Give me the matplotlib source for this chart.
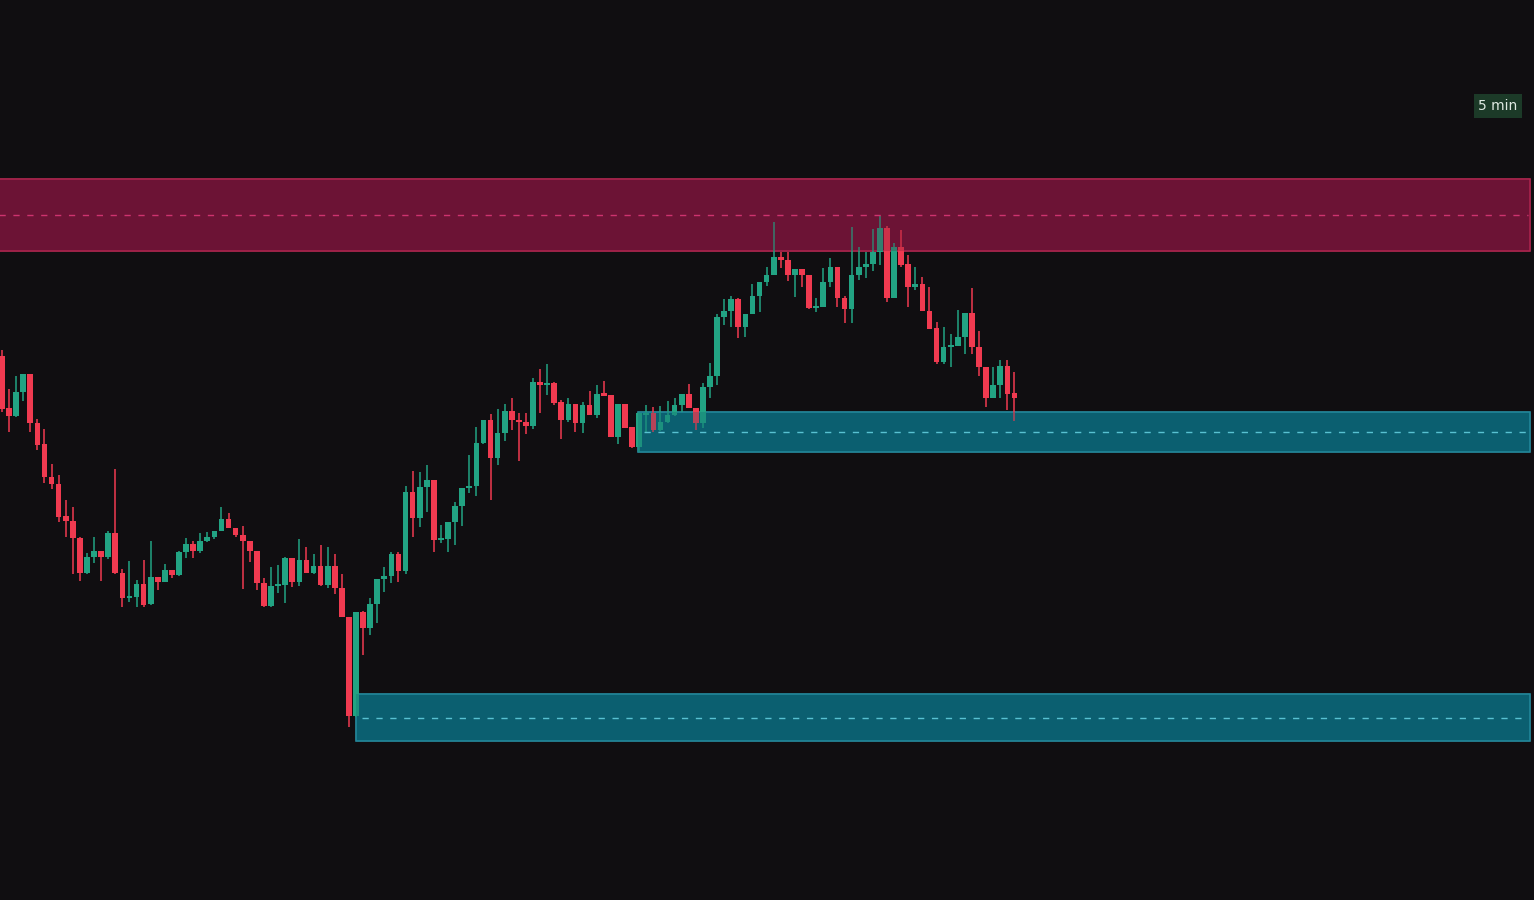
### 5 minute candles with one supply zone and two demand zones, dark theme.

import matplotlib.pyplot as plt
from matplotlib.patches import Rectangle
import numpy as np

# Candle data
opens = [544, 492, 484, 508, 526, 477, 456, 423, 416, 384, 379, 362, 327, 343, 349, 343,
         367, 327, 302, 303, 316, 296, 323, 318, 330, 325, 348, 356, 349, 359, 363, 369,
         381, 372, 365, 359, 349, 317, 294, 314, 315, 342, 318, 340, 327, 334, 315, 334,
         312, 283, 184, 288, 272, 296, 321, 324, 346, 329, 408, 382, 413, 420, 360, 361,
         378, 394, 412, 414, 457, 480, 442, 467, 489, 480, 478, 474, 518, 515, 517, 498,
         480, 496, 477, 495, 485, 507, 505, 463, 496, 473, 453, 485, 487, 470, 478, 485,
         495, 506, 492, 477, 513, 524, 583, 589, 601, 573, 586, 604, 618, 625, 643, 640,
         625, 631, 625, 592, 593, 618, 633, 602, 591, 625, 633, 636, 648, 672, 602, 653,
         636, 613, 616, 589, 572, 538, 553, 554, 563, 587, 553, 533, 502, 515, 534, 507]
highs = [550, 511, 524, 526, 526, 481, 471, 436, 425, 400, 393, 363, 347, 363, 349, 369,
         431, 331, 339, 320, 340, 359, 323, 336, 330, 349, 362, 359, 367, 368, 369, 393,
         387, 372, 374, 359, 349, 322, 333, 335, 343, 342, 361, 353, 346, 355, 353, 346,
         326, 283, 288, 289, 302, 321, 333, 348, 348, 414, 429, 428, 435, 420, 375, 378,
         398, 412, 445, 473, 480, 486, 491, 496, 502, 487, 487, 522, 531, 536, 518, 500,
         502, 496, 498, 509, 515, 519, 505, 496, 496, 473, 488, 495, 493, 494, 499, 502,
         506, 516, 492, 517, 537, 586, 601, 604, 602, 586, 616, 618, 633, 678, 648, 648,
         631, 631, 625, 602, 632, 642, 633, 604, 673, 653, 648, 671, 684, 674, 657, 670,
         645, 633, 623, 613, 578, 573, 566, 590, 587, 612, 569, 533, 533, 540, 540, 528]
lows = [488, 468, 483, 499, 468, 450, 417, 411, 378, 363, 326, 319, 326, 337, 319, 341,
        326, 293, 298, 293, 293, 295, 310, 318, 322, 324, 342, 342, 347, 358, 361, 369,
        372, 363, 311, 338, 310, 293, 293, 307, 297, 313, 314, 327, 326, 314, 312, 306,
        283, 173, 183, 245, 265, 277, 308, 317, 318, 326, 363, 373, 388, 348, 357, 348,
        355, 374, 407, 404, 456, 400, 435, 459, 470, 439, 466, 471, 487, 505, 495, 461,
        478, 468, 467, 485, 482, 504, 463, 456, 472, 452, 448, 468, 468, 469, 477, 484,
        488, 492, 470, 472, 502, 515, 575, 573, 562, 563, 586, 588, 614, 625, 632, 619,
        603, 613, 591, 588, 593, 613, 593, 577, 577, 620, 622, 629, 635, 598, 602, 633,
        593, 610, 589, 571, 536, 536, 533, 554, 546, 546, 524, 493, 502, 502, 490, 479]
closes = [491, 484, 508, 526, 477, 455, 423, 416, 383, 379, 362, 327, 343, 349, 343, 367,
          327, 302, 303, 316, 295, 323, 318, 330, 325, 348, 356, 349, 359, 363, 369, 381,
          372, 365, 359, 349, 317, 294, 314, 316, 342, 318, 340, 327, 334, 315, 334, 312,
          283, 184, 288, 272, 296, 321, 324, 346, 329, 408, 382, 413, 420, 360, 361, 378,
          394, 412, 414, 457, 480, 442, 467, 489, 480, 478, 474, 518, 515, 516, 497, 480,
          496, 477, 495, 485, 506, 504, 463, 496, 472, 453, 487, 487, 470, 478, 485, 495,
          506, 492, 477, 513, 524, 583, 589, 601, 573, 586, 604, 618, 625, 643, 640, 625,
          631, 625, 592, 593, 618, 633, 602, 591, 625, 633, 636, 648, 672, 602, 653, 635,
          613, 616, 589, 571, 538, 553, 554, 563, 587, 553, 533, 502, 515, 534, 506, 502]

# Zones: kind, start candle, low, high
zone_kinds = ["supply", "demand", "demand"]
zone_starts = [-2, 89.85, 50]
zone_lows = [649, 448, 159]
zone_highs = [721, 488, 206]

bg = "#100e11"
up_color = "#22a383"
down_color = "#f03a50"
zone_style = {
    "supply": {"fill": "#6c1335", "edge": "#c42a57", "mid": "#e0397a"},
    "demand": {"fill": "#0b5f70", "edge": "#2a98ad", "mid": "#66d3e3"},
}

fig = plt.figure(figsize=(15.34, 9), dpi=100, facecolor=bg)
ax = fig.add_axes([0, 0, 1, 1], facecolor=bg)

step = 7.08  # pixels per candle
ax.set_xlim(-2 / step, 1532 / step)
ax.set_ylim(0, 900)
ax.axis("off")

zone_end = 1528 / step

# Zones under the candles
for kind, start, lo, hi in zip(zone_kinds, zone_starts, zone_lows, zone_highs):
    st = zone_style[kind]
    ax.add_patch(Rectangle((start, lo), zone_end - start, hi - lo,
                           facecolor=st["fill"], edgecolor=st["edge"], lw=1.1, zorder=1))

# Candles
o = np.array(opens)
h = np.array(highs)
l = np.array(lows)
c = np.array(closes)
x = np.arange(len(o))
colors = np.where(c >= o, up_color, down_color)

ax.vlines(x, l, h, colors=colors, lw=1.1, zorder=3)
body_bottom = np.minimum(o, c)
body_height = np.maximum(np.abs(c - o), 1.6)
ax.bar(x, body_height, bottom=body_bottom, width=0.8, color=colors, lw=0, zorder=4)

# light tint of the zone over the candles inside it, then the dashed middle
for kind, start, lo, hi in zip(zone_kinds, zone_starts, zone_lows, zone_highs):
    st = zone_style[kind]
    ax.add_patch(Rectangle((start, lo), zone_end - start, hi - lo,
                           facecolor=st["fill"], edgecolor="none", alpha=0.25, zorder=5))
    ax.hlines((lo + hi) / 2, start + 0.8, zone_end - 0.3, colors=st["mid"], lw=1.0,
              linestyles=(0, (4.5, 5.5)), alpha=0.85, zorder=6)

# Timeframe tag
fig.text(1498 / 1534, 1 - 106 / 900, "5 min", ha="center", va="center", fontsize=10,
         color="#dfe9e2", bbox={"boxstyle": "square,pad=0.35", "facecolor": "#1c3a28",
                                "edgecolor": "none"})

plt.savefig("out.png", dpi=100, facecolor=bg)
